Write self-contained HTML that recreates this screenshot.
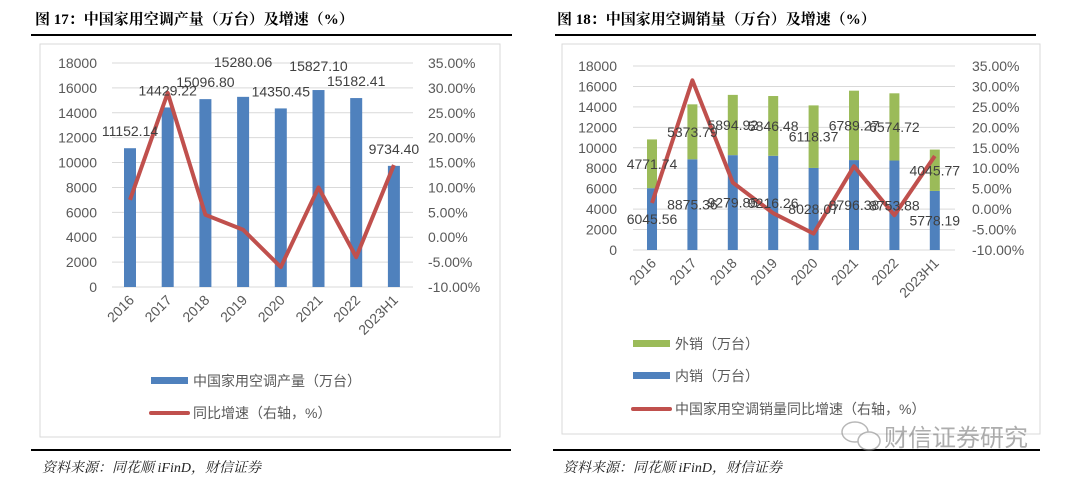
<!DOCTYPE html>
<html><head><meta charset="utf-8">
<style>
body{margin:0;background:#fff;}
svg{display:block;font-family:"Liberation Sans","Noto Sans CJK SC",sans-serif;}
</style></head>
<body>
<svg id="s" width="1080" height="484" viewBox="0 0 1080 484" xmlns="http://www.w3.org/2000/svg">
  <text x="35" y="24" font-size="15" font-weight="bold" fill="#000" font-family="'Liberation Serif','Noto Serif CJK SC',serif">图 17：中国家用空调产量（万台）及增速（%）</text>
  <line x1="31" y1="35" x2="512" y2="35" stroke="#000" stroke-width="2"/>
  <rect x="40" y="44" width="460" height="393" fill="#fff" stroke="#D9D9D9"/>
  <text x="557" y="24" font-size="15" font-weight="bold" fill="#000" font-family="'Liberation Serif','Noto Serif CJK SC',serif">图 18：中国家用空调销量（万台）及增速（%）</text>
  <line x1="555" y1="35" x2="1036" y2="35" stroke="#000" stroke-width="2"/>
  <rect x="562" y="44" width="478" height="390" fill="#fff" stroke="#D9D9D9"/>
  <g id="L"></g><g id="R"></g>
  <line x1="31" y1="450" x2="511" y2="450" stroke="#000" stroke-width="2"/>
  <text x="42" y="472" font-size="14" font-style="italic" fill="#222" font-family="'Liberation Serif','Noto Serif CJK SC',serif">资料来源：同花顺 iFinD，财信证券</text>
  <line x1="553" y1="450" x2="1040" y2="450" stroke="#000" stroke-width="2"/>
  <text x="563" y="472" font-size="14" font-style="italic" fill="#222" font-family="'Liberation Serif','Noto Serif CJK SC',serif">资料来源：同花顺 iFinD，财信证券</text>
  <g opacity="0.6">
    <ellipse cx="855" cy="432" rx="13" ry="10" fill="none" stroke="#888" stroke-width="1.5"/>
    <ellipse cx="869" cy="441" rx="11" ry="9" fill="#fff" stroke="#888" stroke-width="1.5"/>
    <text x="884" y="446" font-size="24" fill="#777">财信证券研究</text>
  </g>
</svg>
<script>
const cats=["2016","2017","2018","2019","2020","2021","2022","2023H1"];
const production=[11152.14,14429.22,15096.80,15280.06,14350.45,15827.10,15182.41,9734.40];
const productionGrowth=[7.5,29,4.5,1.5,-6,10,-4,14.5];
const domestic=[6045.56,8875.36,9279.85,9216.26,8028.07,8796.38,8753.88,5778.19];
const exportSales=[4771.74,5373.79,5894.92,5846.48,6118.37,6789.27,6574.72,4045.77];
const salesGrowth=[1.5,31.5,6.5,-1,-6,10.5,-1.5,13];
const leftTicks=[0,2000,4000,6000,8000,10000,12000,14000,16000,18000];
const rightTicks=[-10,-5,0,5,10,15,20,25,30,35];

const NS="http://www.w3.org/2000/svg";
function mk(p,tag,at,txt){const e=document.createElementNS(NS,tag);for(const k in at)e.setAttribute(k,at[k]);if(txt!==undefined)e.textContent=txt;p.appendChild(e);return e;}

function chart(gid,o){
  const g=document.getElementById(gid);
  const yL=v=>o.y0-(v/18000)*(o.y0-o.yTop);
  const yR=v=>o.y0-((v+10)/45)*(o.y0-o.yTop);
  const xC=i=>o.x0+i*o.step;
  leftTicks.forEach(t=>{
    const l=mk(g,"line",{x1:o.gx1,x2:o.gx2,y1:yL(t),y2:yL(t),stroke:"#D9D9D9","stroke-width":1});
    
    
    const tx=mk(g,"text",{x:o.lx,y:yL(t)+5,"text-anchor":"end","font-size":14,fill:"#595959"},String(t));
    
    
  });
  rightTicks.forEach(t=>{
    const tx=mk(g,"text",{x:o.rx,y:yR(t)+5,"font-size":14,fill:"#595959"},t.toFixed(2)+"%");
    
    
  });
  cats.forEach((c,i)=>{
    const x=xC(i)+5,y=o.y0+14;
    const tx=mk(g,"text",{x:x,y:y,"text-anchor":"end","font-size":14,fill:"#595959",transform:`rotate(-45 ${x} ${y})`},c);
    
    
  });
  return {g,yL,yR,xC};
}

// Left chart
(function(){
  const o={x0:130,step:37.7,y0:287,yTop:63,gx1:112,gx2:413,lx:97,rx:428};
  const c=chart("L",o);
  production.forEach((v,i)=>{
    const b=mk(c.g,"rect",{x:c.xC(i)-6,y:c.yL(v),width:12,height:c.yL(0)-c.yL(v),fill:"#4F81BD"});
    
    
  });
  const pts=productionGrowth.map((v,i)=>c.xC(i)+","+c.yR(v)).join(" ");
  const pl=mk(c.g,"polyline",{points:pts,fill:"none",stroke:"#C0504D","stroke-width":4,"stroke-linejoin":"round"});
  
  
  const extra=[0,0,0,18,0,7,0,0];
  production.forEach((v,i)=>{
    const t=mk(c.g,"text",{x:c.xC(i),y:c.yL(v)-12-extra[i],"text-anchor":"middle","font-size":14,fill:"#404040"},v.toFixed(2));
    
    
  });
  const g=c.g;
  const s1=mk(g,"rect",{x:151,y:377,width:37,height:7,fill:"#4F81BD"});
  
  
  const t1=mk(g,"text",{x:193,y:386,"font-size":14,fill:"#595959"},"中国家用空调产量（万台）");
  
  
  const s2=mk(g,"line",{x1:151,x2:188,y1:413,y2:413,stroke:"#C0504D","stroke-width":4,"stroke-linecap":"round"});
  
  
  const t2=mk(g,"text",{x:193,y:418,"font-size":14,fill:"#595959"},"同比增速（右轴，%）");
  
  
})();

// Right chart
(function(){
  const o={x0:652,step:40.4,y0:250,yTop:66,gx1:633,gx2:955,lx:617,rx:972};
  const c=chart("R",o);
  domestic.forEach((v,i)=>{
    const b=mk(c.g,"rect",{x:c.xC(i)-5,y:c.yL(v),width:10,height:c.yL(0)-c.yL(v),fill:"#4F81BD"});
    
    
    const top=v+exportSales[i];
    const e=mk(c.g,"rect",{x:c.xC(i)-5,y:c.yL(top),width:10,height:c.yL(v)-c.yL(top),fill:"#9BBB59"});
    
    
  });
  const pts=salesGrowth.map((v,i)=>c.xC(i)+","+c.yR(v)).join(" ");
  const pl=mk(c.g,"polyline",{points:pts,fill:"none",stroke:"#C0504D","stroke-width":4,"stroke-linejoin":"round"});
  
  
  domestic.forEach((v,i)=>{
    const t=mk(c.g,"text",{x:c.xC(i),y:(c.yL(0)+c.yL(v))/2+5,"text-anchor":"middle","font-size":14,fill:"#404040"},v.toFixed(2));
    
    
    const top=v+exportSales[i];
    const t2=mk(c.g,"text",{x:c.xC(i),y:(c.yL(v)+c.yL(top))/2+5,"text-anchor":"middle","font-size":14,fill:"#404040"},exportSales[i].toFixed(2));
    
    
  });
  const g=c.g;
  const s1=mk(g,"rect",{x:633,y:340,width:37,height:7,fill:"#9BBB59"});
  
  
  const t1=mk(g,"text",{x:675,y:349,"font-size":14,fill:"#595959"},"外销（万台）");
  
  
  const s2=mk(g,"rect",{x:633,y:372,width:37,height:7,fill:"#4F81BD"});
  
  
  const t2=mk(g,"text",{x:675,y:381,"font-size":14,fill:"#595959"},"内销（万台）");
  
  
  const s3=mk(g,"line",{x1:633,x2:670,y1:409,y2:409,stroke:"#C0504D","stroke-width":4,"stroke-linecap":"round"});
  
  
  const t3=mk(g,"text",{x:675,y:414,"font-size":14,fill:"#595959"},"中国家用空调销量同比增速（右轴，%）");
  
  
})();
</script>
</body></html>
